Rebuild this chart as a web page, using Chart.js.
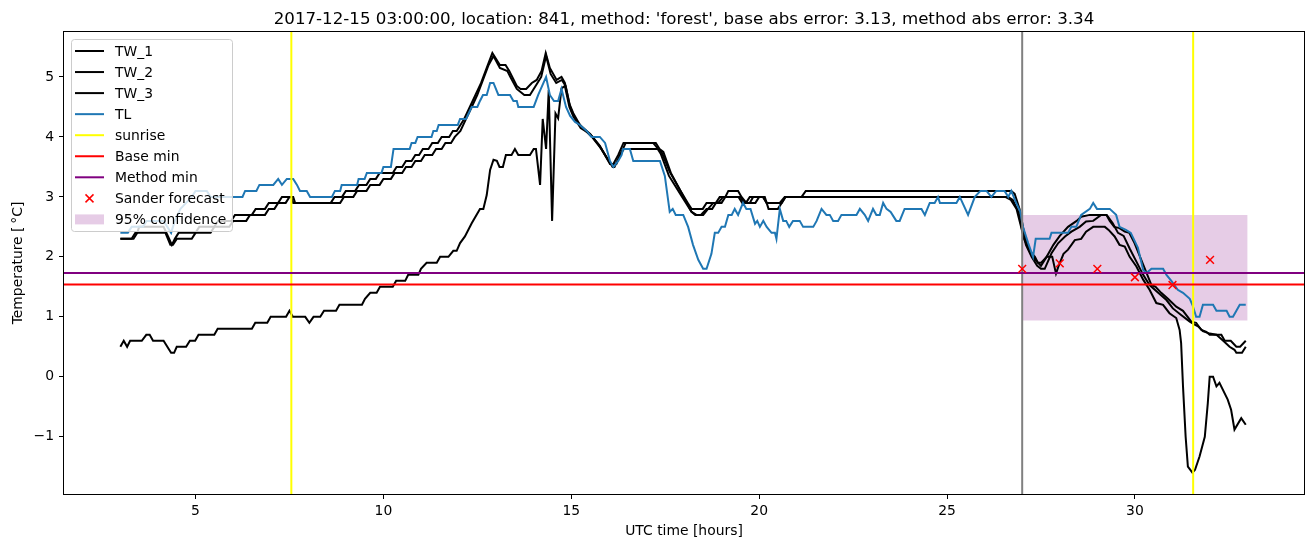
<!DOCTYPE html>
<html>
<head>
<meta charset="utf-8">
<script src="https://cdn.jsdelivr.net/npm/chart.js@4.4.1/dist/chart.umd.min.js"></script>
<style>
  html, body { margin: 0; padding: 0; background: #fff; }
  canvas { display: block; }
</style>
</head>
<body>
<canvas id="tempChart" width="1313" height="547"></canvas>
<script>
// values: [hour, temperature]
const tw1 = [[3.0,2.3],[3.35,2.3],[3.45,2.4],[3.5,2.5],[4.15,2.5],[4.3,2.3],[4.37,2.2],[4.45,2.3],[4.55,2.4],[5.0,2.4],[5.1,2.5],[5.5,2.5],[5.6,2.6],[5.95,2.6],[6.05,2.7],[6.5,2.7],[6.6,2.8],[6.85,2.8],[6.95,2.9],[7.2,2.9],[7.3,3.0],[7.6,3.0],[7.65,2.9],[8.6,2.9],[8.7,3.0],[8.9,3.0],[9.0,3.1],[9.25,3.1],[9.35,3.2],[9.55,3.2],[9.65,3.3],[9.8,3.3],[9.9,3.4],[10.25,3.4],[10.35,3.5],[10.5,3.5],[10.6,3.6],[10.75,3.6],[10.85,3.7],[10.95,3.7],[11.05,3.8],[11.2,3.8],[11.3,3.9],[11.45,3.9],[11.55,4.0],[11.75,4.0],[11.85,4.1],[11.95,4.1],[12.05,4.2],[12.15,4.3],[12.3,4.5],[12.45,4.7],[12.6,4.9],[12.75,5.15],[12.9,5.4],[13.1,5.2],[13.25,5.2],[13.35,5.1],[13.55,4.85],[13.65,4.8],[13.8,4.8],[13.95,4.9],[14.08,4.95],[14.21,5.1],[14.32,5.4],[14.43,5.15],[14.61,4.95],[14.74,5.0],[14.83,4.9],[14.95,4.55],[15.05,4.4],[15.23,4.2],[15.5,4.05],[15.76,3.85],[16.03,3.55],[16.12,3.55],[16.25,3.7],[16.39,3.9],[17.18,3.9],[17.31,3.8],[17.4,3.75],[17.62,3.42],[17.89,3.12],[18.1,2.9],[18.2,2.8],[18.5,2.8],[18.6,2.9],[18.85,2.9],[18.95,3.0],[19.1,3.0],[19.18,3.1],[19.44,3.1],[19.53,3.0],[19.66,2.9],[19.75,2.9],[19.84,3.0],[20.11,3.0],[20.2,2.9],[20.55,2.9],[20.68,3.0],[21.13,3.0],[21.24,3.1],[26.71,3.1],[26.8,3.05],[26.93,2.8],[27.02,2.5],[27.11,2.25],[27.2,2.1],[27.34,2.0],[27.42,1.9],[27.5,1.9],[27.65,2.0],[27.83,2.2],[28.0,2.35],[28.22,2.5],[28.45,2.6],[28.57,2.67],[28.8,2.7],[29.24,2.7],[29.33,2.6],[29.45,2.5],[29.59,2.48],[29.73,2.42],[29.85,2.4],[29.99,2.23],[30.22,1.87],[30.44,1.53],[30.55,1.5],[30.7,1.4],[30.88,1.3],[31.1,1.17],[31.28,1.1],[31.5,0.92],[31.63,0.9],[31.77,0.78],[31.9,0.75],[31.99,0.7],[32.3,0.7],[32.39,0.6],[32.55,0.6],[32.7,0.5],[32.8,0.5],[32.95,0.6]];

const tw2 = [[3.0,2.3],[3.3,2.3],[3.4,2.4],[4.2,2.4],[4.33,2.2],[4.4,2.2],[4.5,2.3],[4.9,2.3],[5.0,2.4],[5.4,2.4],[5.5,2.5],[5.9,2.5],[6.0,2.6],[6.35,2.6],[6.45,2.7],[6.85,2.7],[6.95,2.8],[7.1,2.8],[7.2,2.9],[7.4,2.9],[7.5,3.0],[7.55,3.0],[7.6,2.9],[8.85,2.9],[8.95,3.0],[9.2,3.0],[9.3,3.1],[9.55,3.1],[9.65,3.2],[9.9,3.2],[10.0,3.3],[10.2,3.3],[10.3,3.4],[10.5,3.4],[10.6,3.5],[10.75,3.5],[10.85,3.6],[11.0,3.6],[11.1,3.7],[11.3,3.7],[11.4,3.8],[11.55,3.8],[11.65,3.9],[11.8,3.9],[11.9,4.0],[12.05,4.1],[12.2,4.3],[12.35,4.5],[12.5,4.7],[12.65,4.95],[12.8,5.2],[12.93,5.35],[13.1,5.15],[13.3,5.1],[13.38,5.0],[13.55,4.8],[13.75,4.7],[13.9,4.7],[14.0,4.8],[14.1,4.9],[14.2,5.0],[14.33,5.35],[14.45,5.05],[14.6,4.9],[14.75,4.95],[14.85,4.85],[14.97,4.5],[15.1,4.3],[15.3,4.15],[15.55,4.0],[15.8,3.8],[16.05,3.55],[16.2,3.55],[16.3,3.7],[16.45,3.9],[17.25,3.9],[17.35,3.8],[17.45,3.75],[17.65,3.4],[17.95,3.05],[18.2,2.75],[18.33,2.7],[18.51,2.7],[18.64,2.8],[18.78,2.9],[18.91,2.9],[19.04,3.0],[19.5,3.0],[19.6,2.9],[19.9,2.9],[20.0,3.0],[20.15,3.0],[20.25,2.8],[20.5,2.8],[20.6,2.9],[20.7,3.0],[26.63,3.0],[26.75,2.95],[26.9,2.75],[27.0,2.45],[27.1,2.2],[27.25,2.0],[27.4,1.85],[27.5,1.8],[27.6,1.8],[27.78,2.06],[27.96,2.23],[28.14,2.34],[28.31,2.42],[28.53,2.5],[28.7,2.59],[28.89,2.6],[29.1,2.7],[29.25,2.7],[29.41,2.56],[29.55,2.4],[29.7,2.35],[29.86,2.14],[30.04,1.92],[30.22,1.7],[30.39,1.53],[30.62,1.4],[30.84,1.28],[31.01,1.14],[31.23,1.03],[31.46,0.92],[31.59,0.87],[31.68,0.84],[31.81,0.76],[31.99,0.72],[32.17,0.7],[32.35,0.6],[32.52,0.5],[32.65,0.45],[32.7,0.4],[32.85,0.4],[32.95,0.5]];

const tw3 = [[3.0,0.5],[3.09,0.6],[3.18,0.5],[3.26,0.6],[3.57,0.6],[3.69,0.7],[3.78,0.7],[3.87,0.6],[4.15,0.6],[4.35,0.4],[4.43,0.4],[4.5,0.5],[4.75,0.5],[4.85,0.6],[4.99,0.6],[5.08,0.7],[5.5,0.7],[5.59,0.8],[6.5,0.8],[6.59,0.9],[6.91,0.9],[7.0,1.0],[7.41,1.0],[7.5,1.1],[7.59,1.0],[7.92,1.0],[8.03,0.9],[8.14,1.0],[8.32,1.0],[8.42,1.1],[8.74,1.1],[8.83,1.2],[9.43,1.2],[9.51,1.3],[9.65,1.4],[9.82,1.4],[9.91,1.5],[10.25,1.5],[10.34,1.6],[10.58,1.6],[10.66,1.7],[10.93,1.7],[11.0,1.8],[11.15,1.9],[11.42,1.9],[11.51,2.0],[11.73,2.0],[11.86,2.1],[11.95,2.1],[12.04,2.23],[12.17,2.34],[12.35,2.56],[12.57,2.8],[12.66,2.8],[12.75,3.03],[12.84,3.45],[12.93,3.62],[13.02,3.6],[13.09,3.5],[13.18,3.5],[13.26,3.7],[13.41,3.7],[13.5,3.8],[13.59,3.7],[13.9,3.7],[14.0,3.8],[14.06,3.8],[14.17,3.2],[14.24,4.3],[14.33,3.8],[14.4,4.78],[14.49,2.6],[14.58,4.39],[14.65,4.31],[14.74,4.81],[14.83,4.85],[14.95,4.5],[15.05,4.35],[15.25,4.15],[15.5,4.05],[15.75,3.85],[16.0,3.6],[16.1,3.5],[16.15,3.5],[16.3,3.7],[16.4,3.8],[17.3,3.8],[17.38,3.72],[17.6,3.35],[17.9,3.05],[18.2,2.75],[18.3,2.7],[18.45,2.7],[18.6,2.8],[18.75,2.8],[18.85,2.9],[19.0,2.9],[19.1,3.0],[19.45,3.0],[19.55,2.9],[19.65,2.9],[19.75,3.0],[20.1,3.0],[20.2,2.9],[20.6,2.9],[20.7,3.0],[26.55,3.0],[26.7,2.95],[26.85,2.8],[26.95,2.55],[27.05,2.3],[27.2,2.1],[27.35,1.95],[27.5,1.85],[27.65,2.0],[27.8,2.0],[27.9,1.72],[27.97,1.85],[28.1,2.05],[28.22,2.12],[28.4,2.28],[28.57,2.3],[28.7,2.42],[28.89,2.5],[29.2,2.5],[29.3,2.45],[29.46,2.34],[29.59,2.2],[29.73,2.17],[29.86,2.0],[30.04,1.84],[30.22,1.62],[30.39,1.45],[30.57,1.23],[30.75,1.2],[30.92,1.06],[31.1,0.98],[31.19,0.78],[31.23,0.56],[31.28,-0.16],[31.35,-1.0],[31.41,-1.5],[31.53,-1.6],[31.6,-1.55],[31.72,-1.33],[31.86,-1.0],[31.94,-0.44],[31.99,0.0],[32.08,0.0],[32.17,-0.16],[32.25,-0.1],[32.47,-0.38],[32.56,-0.55],[32.65,-0.88],[32.83,-0.69],[32.95,-0.8]];

const tl = [[3.0,2.4],[3.2,2.4],[3.3,2.5],[3.6,2.5],[3.7,2.6],[4.15,2.6],[4.25,2.5],[4.35,2.4],[4.45,2.6],[4.6,2.8],[4.75,2.9],[4.9,3.0],[5.0,3.1],[5.3,3.1],[5.4,3.0],[6.25,3.0],[6.32,3.1],[6.62,3.1],[6.7,3.2],[7.07,3.2],[7.2,3.3],[7.3,3.2],[7.43,3.3],[7.6,3.3],[7.7,3.2],[7.78,3.1],[7.96,3.1],[8.05,3.0],[8.63,3.0],[8.71,3.1],[8.85,3.1],[8.89,3.2],[9.3,3.2],[9.34,3.3],[9.5,3.3],[9.56,3.4],[9.95,3.4],[10.0,3.5],[10.2,3.5],[10.27,3.8],[10.7,3.8],[10.75,3.9],[10.85,3.9],[10.91,4.0],[11.28,4.0],[11.33,4.1],[11.42,4.1],[11.47,4.2],[11.98,4.2],[12.04,4.3],[12.2,4.3],[12.35,4.5],[12.5,4.5],[12.57,4.6],[12.65,4.7],[12.75,4.7],[12.84,4.9],[12.93,4.9],[13.06,4.7],[13.37,4.7],[13.46,4.6],[13.55,4.6],[13.59,4.5],[14.0,4.5],[14.12,4.7],[14.26,4.9],[14.33,5.0],[14.43,4.7],[14.54,4.6],[14.65,4.6],[14.74,4.8],[14.86,4.5],[14.97,4.35],[15.1,4.25],[15.23,4.2],[15.41,4.1],[15.54,4.0],[15.76,4.0],[15.9,3.9],[16.03,3.6],[16.12,3.5],[16.25,3.6],[16.34,3.7],[16.38,3.8],[16.56,3.8],[16.65,3.6],[17.36,3.6],[17.49,3.35],[17.62,2.75],[17.7,2.8],[17.78,2.7],[17.98,2.7],[18.11,2.5],[18.24,2.2],[18.38,1.95],[18.51,1.8],[18.6,1.8],[18.73,2.05],[18.82,2.4],[18.91,2.4],[19.0,2.5],[19.09,2.5],[19.18,2.7],[19.27,2.7],[19.35,2.8],[19.44,2.7],[19.57,2.9],[19.66,2.8],[19.77,2.8],[19.89,2.55],[19.95,2.6],[20.02,2.5],[20.11,2.6],[20.2,2.5],[20.33,2.4],[20.42,2.4],[20.46,2.3],[20.55,2.8],[20.64,2.6],[20.72,2.6],[20.8,2.5],[20.9,2.6],[21.08,2.6],[21.17,2.5],[21.44,2.5],[21.53,2.6],[21.66,2.8],[21.79,2.7],[21.88,2.7],[21.97,2.6],[22.1,2.6],[22.19,2.7],[22.59,2.7],[22.68,2.8],[22.81,2.7],[22.9,2.6],[23.03,2.8],[23.12,2.7],[23.21,2.7],[23.3,2.9],[23.39,2.8],[23.5,2.75],[23.65,2.6],[23.74,2.6],[23.87,2.8],[24.32,2.8],[24.41,2.7],[24.54,2.9],[24.67,2.9],[24.76,3.0],[24.81,2.9],[25.25,2.9],[25.34,3.0],[25.56,2.7],[25.74,3.0],[25.89,3.1],[26.05,3.1],[26.18,3.0],[26.31,3.1],[26.53,3.1],[26.63,3.0],[26.71,3.1],[26.84,2.9],[26.95,2.75],[27.02,2.5],[27.16,2.23],[27.29,2.0],[27.36,2.3],[27.73,2.3],[27.78,2.4],[28.22,2.4],[28.31,2.5],[28.44,2.5],[28.57,2.7],[28.8,2.8],[28.89,2.9],[28.99,2.8],[29.33,2.8],[29.5,2.7],[29.59,2.5],[29.76,2.45],[29.89,2.4],[30.08,2.15],[30.22,1.78],[30.31,1.73],[30.44,1.8],[30.75,1.8],[30.84,1.7],[30.97,1.6],[31.14,1.45],[31.28,1.4],[31.46,1.3],[31.53,1.2],[31.63,1.0],[31.72,1.0],[31.81,1.2],[32.08,1.2],[32.17,1.1],[32.44,1.1],[32.52,1.0],[32.61,1.0],[32.7,1.1],[32.79,1.2],[32.95,1.2]];

const forecastHours = [27, 28, 29, 30, 31, 32];
const forecastTemps = [1.8, 1.89, 1.8, 1.66, 1.53, 1.95];

const sunriseHours = [7.55, 31.55];
const forecastStart = 27;
const baseMin = 1.54;
const methodMin = 1.73;
const confHours = [27, 33];
const confLow = 0.94;
const confHigh = 2.70;

const xRange = [1.5, 34.5];
const yRange = [-1.955, 5.75];
const xTicks = [5, 10, 15, 20, 25, 30];
const yTicks = [-1, 0, 1, 2, 3, 4, 5];

const titleText = "2017-12-15 03:00:00, location: 841, method: 'forest', base abs error: 3.13, method abs error: 3.34";
const xTitle = "UTC time [hours]";
const yTitle = "Temperature [\u2009\u00B0C]";

const fam = "'DejaVu Sans', sans-serif";
const confColor = 'rgba(128, 0, 128, 0.2)';

const toPoints = pairs => pairs.map(([x, y]) => ({ x, y }));

function lineSet(label, pairs, color, order) {
  return {
    label: label,
    data: toPoints(pairs),
    showLine: true,
    borderColor: color,
    backgroundColor: color,
    borderWidth: 2,
    pointRadius: 0,
    pointHoverRadius: 0,
    tension: 0,
    fill: false,
    order: order,
    legendKind: 'line'
  };
}

// vertical lines, a null point breaks the path between them
const sunrisePts = [];
sunriseHours.forEach((h, i) => {
  if (i > 0) sunrisePts.push({ x: h, y: null });
  sunrisePts.push({ x: h, y: yRange[0] }, { x: h, y: yRange[1] });
});

const datasets = [
  lineSet('TW_1', tw1, '#000000', 10),
  lineSet('TW_2', tw2, '#000000', 9),
  lineSet('TW_3', tw3, '#000000', 8),
  lineSet('TL', tl, '#1f77b4', 7),
  Object.assign(lineSet('sunrise', [], '#ffff00', 5), { data: sunrisePts }),
  lineSet('Base min', [[xRange[0], baseMin], [xRange[1], baseMin]], '#ff0000', 4),
  lineSet('Method min', [[xRange[0], methodMin], [xRange[1], methodMin]], '#800080', 3),
  {
    label: 'Sander forecast',
    data: forecastHours.map((h, i) => ({ x: h, y: forecastTemps[i] })),
    showLine: false,
    pointStyle: 'crossRot',
    pointRadius: 5.5,
    pointHoverRadius: 5.5,
    borderColor: '#ff0000',
    backgroundColor: '#ff0000',
    borderWidth: 1.5,
    order: 1,
    legendKind: 'marker'
  },
  Object.assign(lineSet(null, [[forecastStart, yRange[0]], [forecastStart, yRange[1]]], '#808080', 6), { legendKind: null }),
  Object.assign(lineSet(null, [[confHours[0], confLow], [confHours[1], confLow]], 'rgba(0,0,0,0)', 20), { borderWidth: 0, legendKind: null }),
  Object.assign(lineSet('95% confidence', [[confHours[0], confHigh], [confHours[1], confHigh]], 'rgba(0,0,0,0)', 19), {
    borderWidth: 0, fill: '-1', backgroundColor: confColor, legendKind: 'patch', legendColor: confColor
  })
];

// title, frame and matplotlib-like legend
const decorPlugin = {
  id: 'decor',
  afterDatasetsDraw(chart) {
    const { ctx, chartArea: a } = chart;
    ctx.save();
    ctx.strokeStyle = '#000';
    ctx.lineWidth = 1;
    ctx.strokeRect(Math.round(a.left) - 0.5, Math.round(a.top) - 0.5,
      Math.round(a.right - a.left) + 1, Math.round(a.bottom - a.top) + 1);
    ctx.restore();
  },
  afterDraw(chart) {
    const { ctx, chartArea: a } = chart;
    ctx.save();
    ctx.fillStyle = '#000';
    ctx.font = '16.67px ' + fam;
    ctx.textAlign = 'center';
    ctx.textBaseline = 'alphabetic';
    ctx.fillText(titleText, (a.left + a.right) / 2, a.top - 8.5);

    const items = chart.data.datasets.filter(d => d.label && d.legendKind);
    const bx = 71.5, by = 39.5, bw = 161, bh = 192, r = 3;
    ctx.beginPath();
    ctx.moveTo(bx + r, by);
    ctx.arcTo(bx + bw, by, bx + bw, by + bh, r);
    ctx.arcTo(bx + bw, by + bh, bx, by + bh, r);
    ctx.arcTo(bx, by + bh, bx, by, r);
    ctx.arcTo(bx, by, bx + bw, by, r);
    ctx.closePath();
    ctx.fillStyle = 'rgba(255,255,255,0.8)';
    ctx.fill();
    ctx.strokeStyle = '#cccccc';
    ctx.lineWidth = 1;
    ctx.stroke();

    ctx.font = '13.9px ' + fam;
    ctx.textAlign = 'left';
    ctx.textBaseline = 'middle';
    items.forEach((d, i) => {
      const y = 51 + i * 21.05;
      if (d.legendKind === 'line') {
        ctx.strokeStyle = d.borderColor;
        ctx.lineWidth = 2;
        ctx.beginPath();
        ctx.moveTo(75, y);
        ctx.lineTo(104, y);
        ctx.stroke();
      } else if (d.legendKind === 'marker') {
        ctx.strokeStyle = d.borderColor;
        ctx.lineWidth = 1.5;
        ctx.beginPath();
        ctx.moveTo(85.5, y - 4); ctx.lineTo(93.5, y + 4);
        ctx.moveTo(85.5, y + 4); ctx.lineTo(93.5, y - 4);
        ctx.stroke();
      } else if (d.legendKind === 'patch') {
        ctx.fillStyle = d.legendColor;
        ctx.fillRect(75, y - 5, 29, 10);
      }
      ctx.fillStyle = '#000';
      ctx.fillText(d.label, 115, y + 1);
    });
    ctx.restore();
  }
};

const tickFont = { family: fam, size: 13.9 };

new Chart(document.getElementById('tempChart'), {
  type: 'scatter',
  data: { datasets: datasets },
  options: {
    responsive: false,
    animation: false,
    devicePixelRatio: 1,
    events: [],
    layout: { padding: { left: 0, right: 9, top: 32, bottom: 0 } },
    plugins: {
      legend: { display: false },
      tooltip: { enabled: false },
      title: { display: false }
    },
    scales: {
      x: {
        type: 'linear',
        min: xRange[0],
        max: xRange[1],
        afterFit: s => { s.height = 53; },
        afterBuildTicks: s => { s.ticks = xTicks.map(v => ({ value: v })); },
        grid: { display: true, drawOnChartArea: false, drawTicks: true, tickLength: 5, color: '#000', lineWidth: 1 },
        border: { display: false },
        ticks: { font: tickFont, color: '#000', padding: 4, maxRotation: 0, includeBounds: false },
        title: { display: true, text: xTitle, font: tickFont, color: '#000', padding: { top: 0, bottom: 7 } }
      },
      y: {
        type: 'linear',
        min: yRange[0],
        max: yRange[1],
        afterFit: s => { s.width = 64; },
        afterBuildTicks: s => { s.ticks = yTicks.map(v => ({ value: v })); },
        grid: { display: true, drawOnChartArea: false, drawTicks: true, tickLength: 5, color: '#000', lineWidth: 1 },
        border: { display: false },
        ticks: {
          font: tickFont, color: '#000', padding: 5, includeBounds: false,
          callback: v => (v < 0 ? '\u2212' + Math.abs(v) : String(v))
        },
        title: { display: true, text: yTitle, font: tickFont, color: '#000', padding: { top: 10, bottom: 0 } }
      }
    }
  },
  plugins: [decorPlugin]
});
</script>
</body>
</html>
